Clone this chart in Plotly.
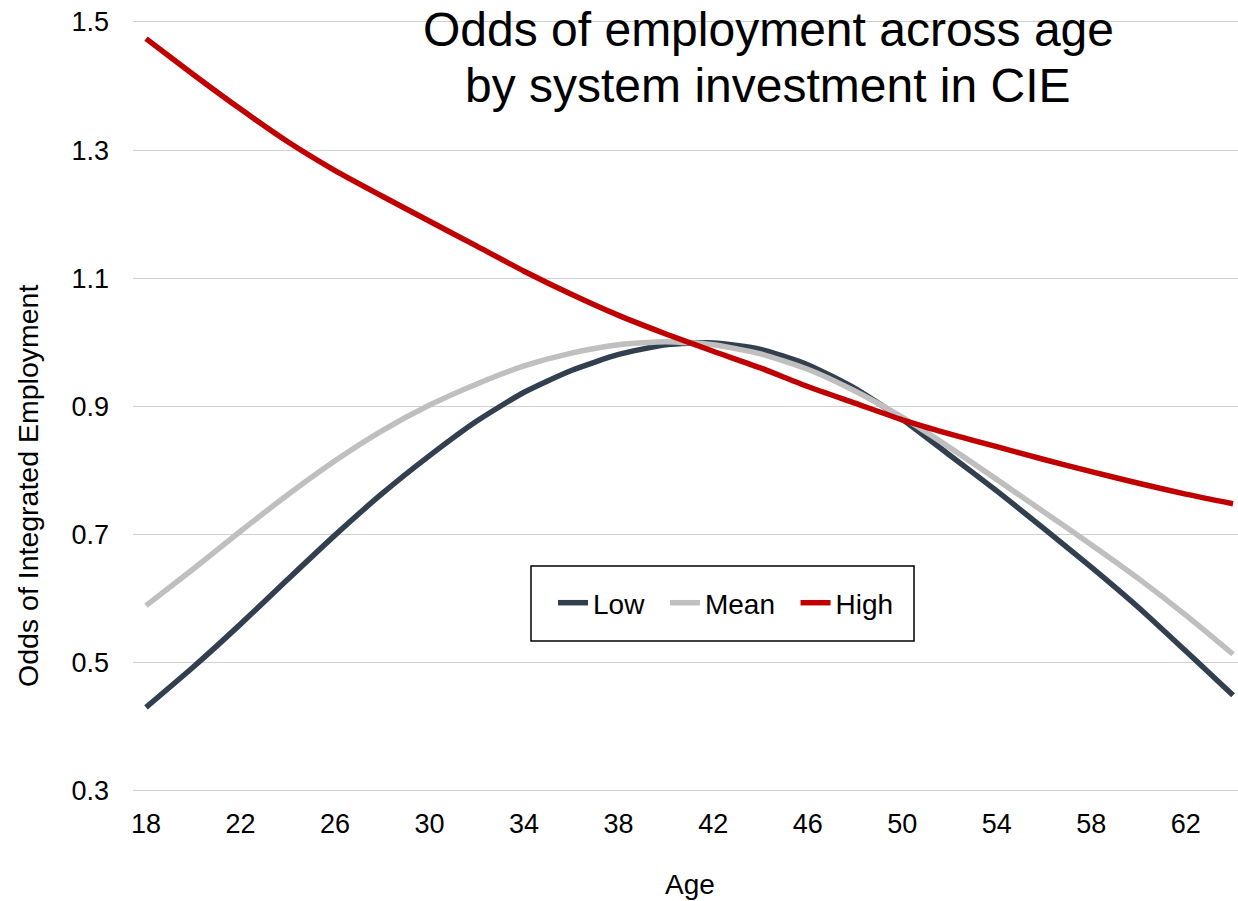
import plotly.graph_objects as go

ages = [18, 20, 22, 24, 26, 28, 30, 32, 34, 36, 38, 40,
        42, 44, 46, 48, 50, 52, 54, 56, 58, 60, 62, 64]

low = [0.430, 0.493, 0.560, 0.630, 0.699, 0.764, 0.823, 0.877, 0.922, 0.956, 0.981, 0.996,
       0.999, 0.989, 0.965, 0.928, 0.880, 0.824, 0.768, 0.709, 0.649, 0.586, 0.518, 0.449]

mean = [0.589, 0.646, 0.705, 0.762, 0.815, 0.862, 0.902, 0.935, 0.963, 0.983, 0.996, 1.001,
        0.996, 0.982, 0.958, 0.924, 0.883, 0.836, 0.786, 0.735, 0.684, 0.631, 0.574, 0.513]

high = [1.474, 1.418, 1.364, 1.313, 1.268, 1.228, 1.189, 1.150, 1.111, 1.075, 1.042, 1.013,
        0.986, 0.960, 0.931, 0.905, 0.879, 0.857, 0.837, 0.817, 0.798, 0.780, 0.763, 0.748]

x_ticks = [18, 22, 26, 30, 34, 38, 42, 46, 50, 54, 58, 62]
y_ticks = [0.3, 0.5, 0.7, 0.9, 1.1, 1.3, 1.5]

series_names = ["Low", "Mean", "High"]
series_colors = ["#323F4F", "#BFBFBF", "#C00000"]

FONT = "Arial, Liberation Sans, sans-serif"
NBSP = "\u00a0"

fig = go.Figure()
for i, (name, vals, col) in enumerate(zip(series_names, [low, mean, high], series_colors)):
    label = name + (NBSP * 2 if i < len(series_names) - 1 else "")
    fig.add_trace(go.Scatter(
        x=ages, y=vals, name=label, mode="lines",
        line=dict(color=col, width=5.5, shape="spline", smoothing=0.6),
    ))

W, H = 1238, 901
L, R, T, B = 133, 0, 20, 108
pw, ph = W - L - R, H - T - B

def px_x(px):
    return (px - L) / pw

def px_y(py):
    return (H - B - py) / ph

fig.update_layout(
    width=W, height=H,
    margin=dict(l=L, r=R, t=T, b=B, pad=0),
    plot_bgcolor="white", paper_bgcolor="white",
    font=dict(family=FONT, color="black", size=27),
    showlegend=True,
    legend=dict(
        orientation="h", x=px_x(726), y=px_y(603), xanchor="center", yanchor="middle",
        bgcolor="rgba(0,0,0,0)", borderwidth=0,
        font=dict(size=28, family=FONT, color="black"),
        itemwidth=30,
    ),
    xaxis=dict(
        range=[17.45, 64.21], tickmode="array", tickvals=x_ticks,
        ticktext=[str(t) for t in x_ticks],
        showgrid=False, zeroline=False, showline=False,
        ticks="", ticklabelstandoff=12,
        tickfont=dict(size=27, family=FONT, color="black"),
    ),
    yaxis=dict(
        range=[0.2964, 1.5031], tickmode="array", tickvals=y_ticks,
        ticktext=["%.1f" % t for t in y_ticks],
        showgrid=True, gridcolor="#D0D0D0", gridwidth=1.4,
        zeroline=False, showline=False, ticks="", ticklabelstandoff=23,
        tickfont=dict(size=27, family=FONT, color="black"),
    ),
    shapes=[
        dict(type="rect", xref="paper", yref="y", x0=px_x(330), x1=px_x(1210),
             y0=1.46, y1=1.53, fillcolor="white", line=dict(width=0), layer="between"),
        dict(type="rect", xref="paper", yref="paper", x0=px_x(531), x1=px_x(914),
             y0=px_y(641), y1=px_y(566), line=dict(color="black", width=1.5),
             fillcolor="rgba(0,0,0,0)", layer="above"),
    ],
    annotations=[
        dict(text="Odds of employment across age", xref="paper", yref="paper",
             x=px_x(768), y=px_y(30), xanchor="center", yanchor="middle",
             showarrow=False, font=dict(size=48, family=FONT, color="black")),
        dict(text="by system investment in CIE", xref="paper", yref="paper",
             x=px_x(768), y=px_y(85), xanchor="center", yanchor="middle",
             showarrow=False, font=dict(size=48, family=FONT, color="black")),
        dict(text="Odds of Integrated Employment", xref="paper", yref="paper",
             x=px_x(28), y=px_y(486), xanchor="center", yanchor="middle", textangle=-90,
             showarrow=False, font=dict(size=28.5, family=FONT, color="black")),
        dict(text="Age", xref="paper", yref="paper",
             x=px_x(690), y=px_y(884), xanchor="center", yanchor="middle",
             showarrow=False, font=dict(size=28, family=FONT, color="black")),
    ],
)

fig.write_html("out.html")
